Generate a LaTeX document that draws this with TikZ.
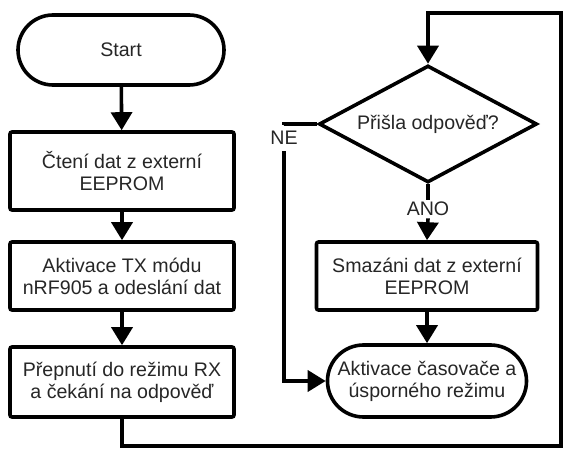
\documentclass[tikz,border=0pt]{standalone}
\usepackage{fontspec}
\setmainfont{Liberation Sans}
\usetikzlibrary{positioning,arrows.meta,shapes.geometric,shapes.misc}

\begin{document}
\begin{tikzpicture}[
    x=0.5pt, y=-0.5pt,
    font=\fontsize{9.8}{11}\selectfont,
    line/.style={draw,line width=1.8pt},
    arr/.style={line,-{Triangle[length=9pt,width=10.5pt]}},
    box/.style={draw,line width=1.8pt,align=center,text=black!85,inner sep=2pt},
    proc/.style={box,rectangle,rounded corners=1pt},
    term/.style={box,rounded rectangle},
    cond/.style={box,diamond,inner sep=0pt,aspect=1.86},
    lbl/.style={text=black!85}
]
\useasboundingbox (0,0) rectangle (563,449);

\node[term,minimum width=107pt,minimum height=35pt] (start) at (121,50) {Start};
\node[proc,minimum width=112pt,minimum height=39pt] (read) at (122,171) {Čtení dat z externí\\EEPROM};
\node[proc,minimum width=112pt,minimum height=34pt] (tx) at (122,276) {Aktivace TX módu\\nRF905 a odeslání dat};
\node[proc,minimum width=112pt,minimum height=35pt] (rx) at (122,382) {Přepnutí do režimu RX\\a čekání na odpověď};

\node[cond,minimum width=109pt,minimum height=58.5pt] (ask) at (428,124) {Přišla odpověď?};
\node[proc,minimum width=110.5pt,minimum height=34pt] (erase) at (427,276) {Smazáni dat z externí\\EEPROM};
\node[term,minimum width=99.5pt,minimum height=36pt] (sleep) at (427,381) {Aktivace časovače a\\úsporného režimu};

\node[lbl,inner sep=3pt] (ne) at (284,138) {NE};
\node[lbl,inner sep=1pt] (ano) at (428,209) {ANO};

\coordinate (br) at (561,446);
\coordinate (tr) at (561,13);

\draw[arr] (start) -- (read);
\draw[arr] (read) -- (tx);
\draw[arr] (tx) -- (rx);
\draw[arr] (rx.south) |- (br) -- (tr) -| (ask.north);
\draw[line] (ask.west) -| (ne.north);
\draw[arr] (ne.south) |- (sleep.west);
\draw[line] (ask.south) -- (ano.north);
\draw[arr] (ano.south) -- (erase.north);
\draw[arr] (erase) -- (sleep);

\end{tikzpicture}
\end{document}
